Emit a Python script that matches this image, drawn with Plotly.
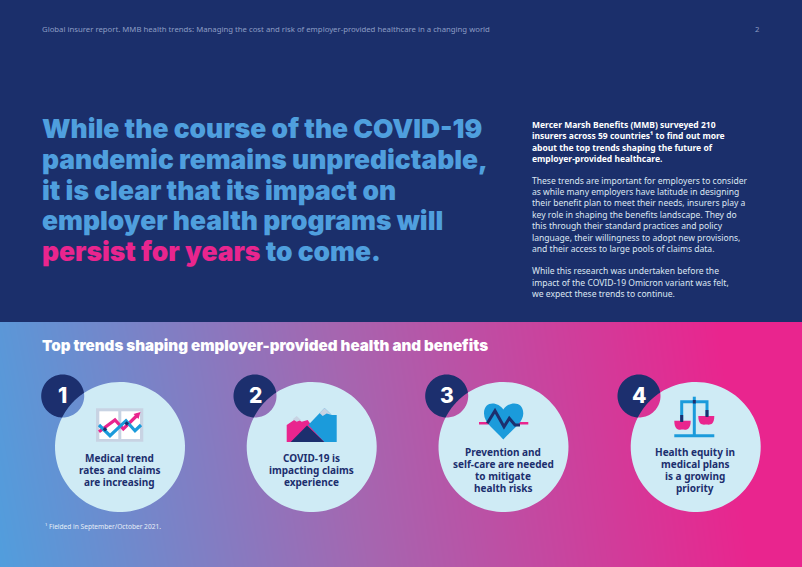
import numpy as np
import plotly.graph_objs as go

NAVY = "#1B2F6B"
DARK = "#1C2F6E"
LIGHT = "#CFEBF5"
SKY = "#4F9FDE"
PINK = "#E9258E"
BLUE = "#1B9BDB"
GREY = "#C8D3E3"
DISPLAY = "Inter"
BODY = "Noto Sans"

header_left = "Global insurer report. MMB health trends: Managing the cost and risk of employer-provided healthcare in a changing world"
page_number = "2"
headline = ["While the course of the COVID-19", "pandemic remains unpredictable,",
            "it is clear that its impact on", "employer health programs will",
            "<span style='color:#E9258E'>persist for years</span> to come."]
headline_y = [127.5, 158.5, 189.5, 220, 250.5]

intro_bold = ["Mercer Marsh Benefits (MMB) surveyed 210", "insurers across 59 countries¹ to find out more",
              "about the top trends shaping the future of", "employer-provided healthcare."]
intro_bold_y = [124, 135.5, 147, 158]
intro_body = ["These trends are important for employers to consider", "as while many employers have latitude in designing",
              "their benefit plan to meet their needs, insurers play a", "key role in shaping the benefits landscape. They do",
              "this through their standard practices and policy", "language, their willingness to adopt new provisions,",
              "and their access to large pools of claims data.",
              "While this research was undertaken before the", "impact of the COVID-19 Omicron variant was felt,",
              "we expect these trends to continue."]
intro_body_y = [180.5, 192, 203, 215, 226, 238, 249, 271, 282.5, 293.5]

subhead = "Top trends shaping employer-provided health and benefits"
footnote = "¹ Fielded in September/October 2021."

numbers = ["1", "2", "3", "4"]
big_x = [120, 311.7, 503.5, 695.7]
small_x = [62.7, 255, 446.7, 639]
big_y, big_r = 447, 65
small_y, small_r = 396, 21.5
trend_text = [["Medical trend", "rates and claims", "are increasing"],
              ["COVID-19 is", "impacting claims", "experience"],
              ["Prevention and", "self-care are needed", "to mitigate", "health risks"],
              ["Health equity in", "medical plans", "is a growing", "priority"]]
trend_first_y = [458, 458, 452, 452]

# gradient corners
grad_x = [-10, 812]
grad_y = [322, 567]
grad_z = [[0.06, 1.12], [0.0, 1.08]]

# icon 1
chart_frame = [96, 408.3, 143.3, 441.7]
chart_panels = [[99.3, 411.3, 118.3, 439], [121.3, 411.3, 140, 439]]
chart_pink = [(99, 431.7), (115, 420), (123.3, 429), (138, 414.5)]
chart_tip = [(140.5, 412), (133.5, 414), (138.5, 419)]
chart_blue = [(99, 425), (110, 435.7), (126, 420.7), (135, 430.7), (141, 425)]
chart_cross = [(105, 429.3), (126.7, 423.5)]
# icon 2
peak_pink = [(286.7, 442), (286.7, 425), (296.7, 418.3), (301.7, 421.7), (307.7, 420), (316.7, 433.3), (325, 442)]
peak_blue = [(308.3, 425), (324.5, 408), (331.7, 415), (336.7, 415), (336.7, 442), (324.3, 442)]
peak_navy = [(290.7, 442), (307, 425.5), (324.3, 442)]
cap_left = [(296.7, 416), (301, 420), (296.7, 421.7), (292.7, 419.3)]
cap_right = [(324.5, 408), (331.7, 415), (326.7, 413.5), (322.7, 416), (319.5, 413)]
# icon 3
pulse_bar = [(479, 423.3), (528.3, 423.3)]
pulse = [(487.3, 423.3), (495, 410.7), (504, 426.7), (509.3, 418.3), (515, 425), (520, 425)]
# icon 4
scale_blue = [[(681.7, 421), (681.7, 401.7), (707, 401.7), (707, 416)], [(694.3, 396.7), (694.3, 436)], [(674.3, 435.7), (714.3, 435.7)]]
scale_navy = [[(681.7, 415), (681.7, 422)], [(707, 410), (707, 417)], [(694.3, 400), (694.3, 403.5)]]
pans = [(674.3, 420.7, 690.7, 429.5), (698.3, 416, 714.3, 424.5)]


def poly(points, close=True):
    return "M " + " L ".join(f"{x},{y}" for x, y in points) + (" Z" if close else "")


def lune(c1, r1, c2, r2):
    # outline of circle 1 with circle 2 taken out of it
    d = np.hypot(c2[0] - c1[0], c2[1] - c1[1])
    base = np.arctan2(c2[1] - c1[1], c2[0] - c1[0])
    a1 = np.arccos((d * d + r1 * r1 - r2 * r2) / (2 * d * r1))
    a2 = np.arccos((d * d + r2 * r2 - r1 * r1) / (2 * d * r2))
    t1 = np.linspace(base + a1, base + 2 * np.pi - a1, 90)
    t2 = np.linspace(base + np.pi + a2, base + np.pi - a2, 30)
    pts = [(c1[0] + r1 * np.cos(t), c1[1] + r1 * np.sin(t)) for t in t1]
    pts += [(c2[0] + r2 * np.cos(t), c2[1] + r2 * np.sin(t)) for t in t2]
    return poly(pts)


shapes = [dict(type="rect", x0=0, x1=802, y0=0, y1=322, fillcolor=NAVY, line_width=0)]


def add_path(path, fill="rgba(0,0,0,0)", color=None, width=0):
    shapes.append(dict(type="path", path=path, fillcolor=fill, line=dict(color=color, width=width)))


def add_rect(box, fill):
    shapes.append(dict(type="rect", x0=box[0], y0=box[1], x1=box[2], y1=box[3], fillcolor=fill, line_width=0))


for bx, sx in zip(big_x, small_x):
    add_path(lune((bx, big_y), big_r, (sx, small_y), small_r), fill=LIGHT)
    add_path(lune((sx, small_y), small_r, (bx, big_y), big_r), fill=DARK)

add_rect(chart_frame, GREY)
for panel in chart_panels:
    add_rect(panel, "white")
add_path(poly(chart_pink, False), color=PINK, width=3.2)
add_path(poly(chart_tip), fill=PINK)
add_path(poly(chart_blue, False), color=BLUE, width=3.2)
for cx, cy in chart_cross:
    add_path(poly([(cx - 2.3, cy), (cx, cy - 2.3), (cx + 2.3, cy), (cx, cy + 2.3)]), fill=DARK)

add_path(poly(peak_pink), fill=PINK)
add_path(poly(peak_blue), fill=BLUE)
add_path(poly(peak_navy), fill=DARK)
add_path(poly(cap_left), fill=GREY)
add_path(poly(cap_right), fill=GREY)

add_path(poly(pulse_bar, False), color=PINK, width=2.6)
add_path("M 503.3,439.5 C 495,430 484,423 484,413.5 C 484,400.5 498,401.5 503.3,409.5 "
         "C 508.5,401.5 523.3,400.5 523.3,413.5 C 523.3,423 511.5,430 503.3,439.5 Z", fill=BLUE)
add_path(poly(pulse, False), color=DARK, width=3)

for x0, y0, x1, y1 in pans:
    xm = (x0 + x1) / 2
    add_path(f"M {x0},{y0} C {x0},{y1 + 2} {xm - 2},{y1} {xm},{y1} C {xm + 2},{y1} {x1},{y1 + 2} {x1},{y0} Z", fill=PINK)
for line in scale_blue:
    add_path(poly(line, False), color=BLUE, width=3)
for line in scale_navy:
    add_path(poly(line, False), color=DARK, width=3)


def label(x, y, text, size, color, family=BODY, weight=400, align="left"):
    return dict(x=x, y=y, text=text, showarrow=False, xanchor=align, yanchor="middle", align=align,
                borderpad=0, borderwidth=0, font=dict(family=family, size=size, color=color, weight=weight))


annotations = [label(42, 29, header_left, 7.75, "#8C9DC4"), label(757, 29, page_number, 7.75, "#8C9DC4", align="center")]
for line, y in zip(headline, headline_y):
    annotations.append(label(41.5, y, line, 26.4, SKY, DISPLAY, 900))
for line, y in zip(intro_bold, intro_bold_y):
    annotations.append(label(532, y, line, 8.5, "white", weight=700))
for line, y in zip(intro_body, intro_body_y):
    annotations.append(label(532, y, line, 8.55, "#DCE6F2"))
annotations.append(label(42, 345, subhead, 15.15, "white", DISPLAY, 900))
annotations.append(label(45, 526.5, footnote, 6.6, "#E6EEF7"))
for i, num in enumerate(numbers):
    annotations.append(label(small_x[i], small_y - 0.5, num, 21, "white", DISPLAY, 800, "center"))
    for j, line in enumerate(trend_text[i]):
        annotations.append(label(big_x[i] - 0.5, trend_first_y[i] + j * 12, line, 10, DARK, BODY, 700, "center"))

fig = go.Figure(go.Heatmap(x=grad_x, y=grad_y, z=grad_z, zsmooth="best", zmin=0, zmax=1, showscale=False, hoverinfo="skip",
                           colorscale=[[0, "#4F9FDE"], [0.5, "#A566B0"], [1, "#E9258E"]]))
fig.update_layout(width=802, height=567, margin=dict(l=0, r=0, t=0, b=0), paper_bgcolor=NAVY, plot_bgcolor=NAVY,
                  shapes=shapes, annotations=annotations, showlegend=False,
                  xaxis=dict(range=[0, 802], visible=False, fixedrange=True),
                  yaxis=dict(range=[567, 0], visible=False, fixedrange=True))
fig.write_html("out.html", config=dict(displayModeBar=False), post_script="document.body.style.margin='0';")
